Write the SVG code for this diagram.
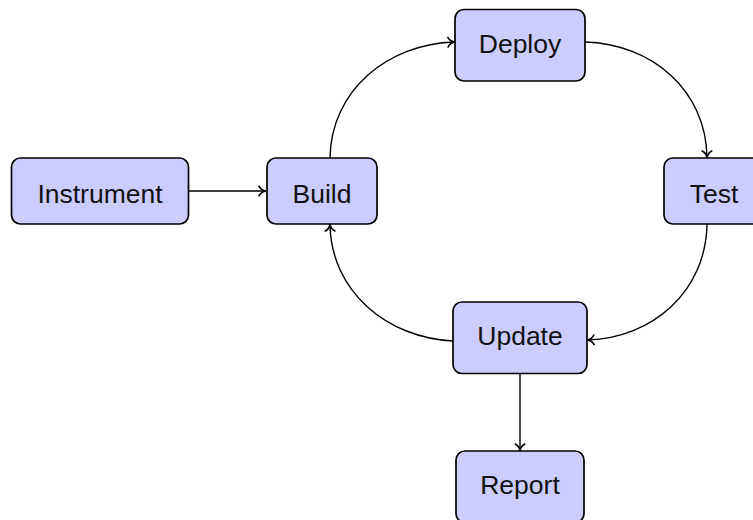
<svg xmlns="http://www.w3.org/2000/svg" width="753" height="520" viewBox="0 0 753 520">
  <defs>
    <marker id="arr" markerUnits="userSpaceOnUse" markerWidth="14" markerHeight="14" viewBox="-9 -7 11 14" refX="0" refY="0" orient="auto">
      <path d="M-6.5,-4.8 C-5.2,-2 -2,-0.5 0,0 C-2,0.5 -5.2,2 -6.5,4.8" fill="none" stroke="#000" stroke-width="1.6" stroke-linecap="round" stroke-linejoin="round"/>
    </marker>
    <style>
      .node rect { fill: #ccccff; stroke: #000; stroke-width: 1.7; }
      .node text { font-family: "Liberation Sans", Arial, sans-serif; font-size: 26.5px; fill: #111; text-anchor: middle; }
      .edge { fill: none; stroke: #000; stroke-width: 1.4; marker-end: url(#arr); }
    </style>
  </defs>
  <rect x="0" y="0" width="753" height="520" fill="#fff"/>
  <g id="connectors">
    <path class="edge" d="M189,191 L265.5,191"/>
    <path class="edge" d="M330,158 C331,90 388,44 454.5,42"/>
    <path class="edge" d="M585,42 C652,44 706,90 707,157.5"/>
    <path class="edge" d="M707,224 C706,292 652,338 587.5,340"/>
    <path class="edge" d="M453,341 C388,338 331,292 330,224.5"/>
    <path class="edge" d="M520,373.5 L520,450.5"/>
  </g>
  <g id="instrument" class="node">
    <rect x="11.5" y="158" width="177" height="66" rx="9"/>
    <text x="100" y="202.5">Instrument</text>
  </g>
  <g id="build" class="node">
    <rect x="267" y="158" width="110" height="66" rx="9"/>
    <text x="322" y="202.5">Build</text>
  </g>
  <g id="deploy" class="node">
    <rect x="455" y="9.5" width="130" height="71.5" rx="9"/>
    <text x="520" y="53">Deploy</text>
  </g>
  <g id="test" class="node">
    <rect x="664" y="158" width="101" height="66" rx="9"/>
    <text x="714" y="202.5">Test</text>
  </g>
  <g id="update" class="node">
    <rect x="453" y="302" width="134" height="71.5" rx="9"/>
    <text x="520" y="345">Update</text>
  </g>
  <g id="report" class="node">
    <rect x="456" y="451" width="128" height="71.5" rx="9"/>
    <text x="520" y="494">Report</text>
  </g>
</svg>
